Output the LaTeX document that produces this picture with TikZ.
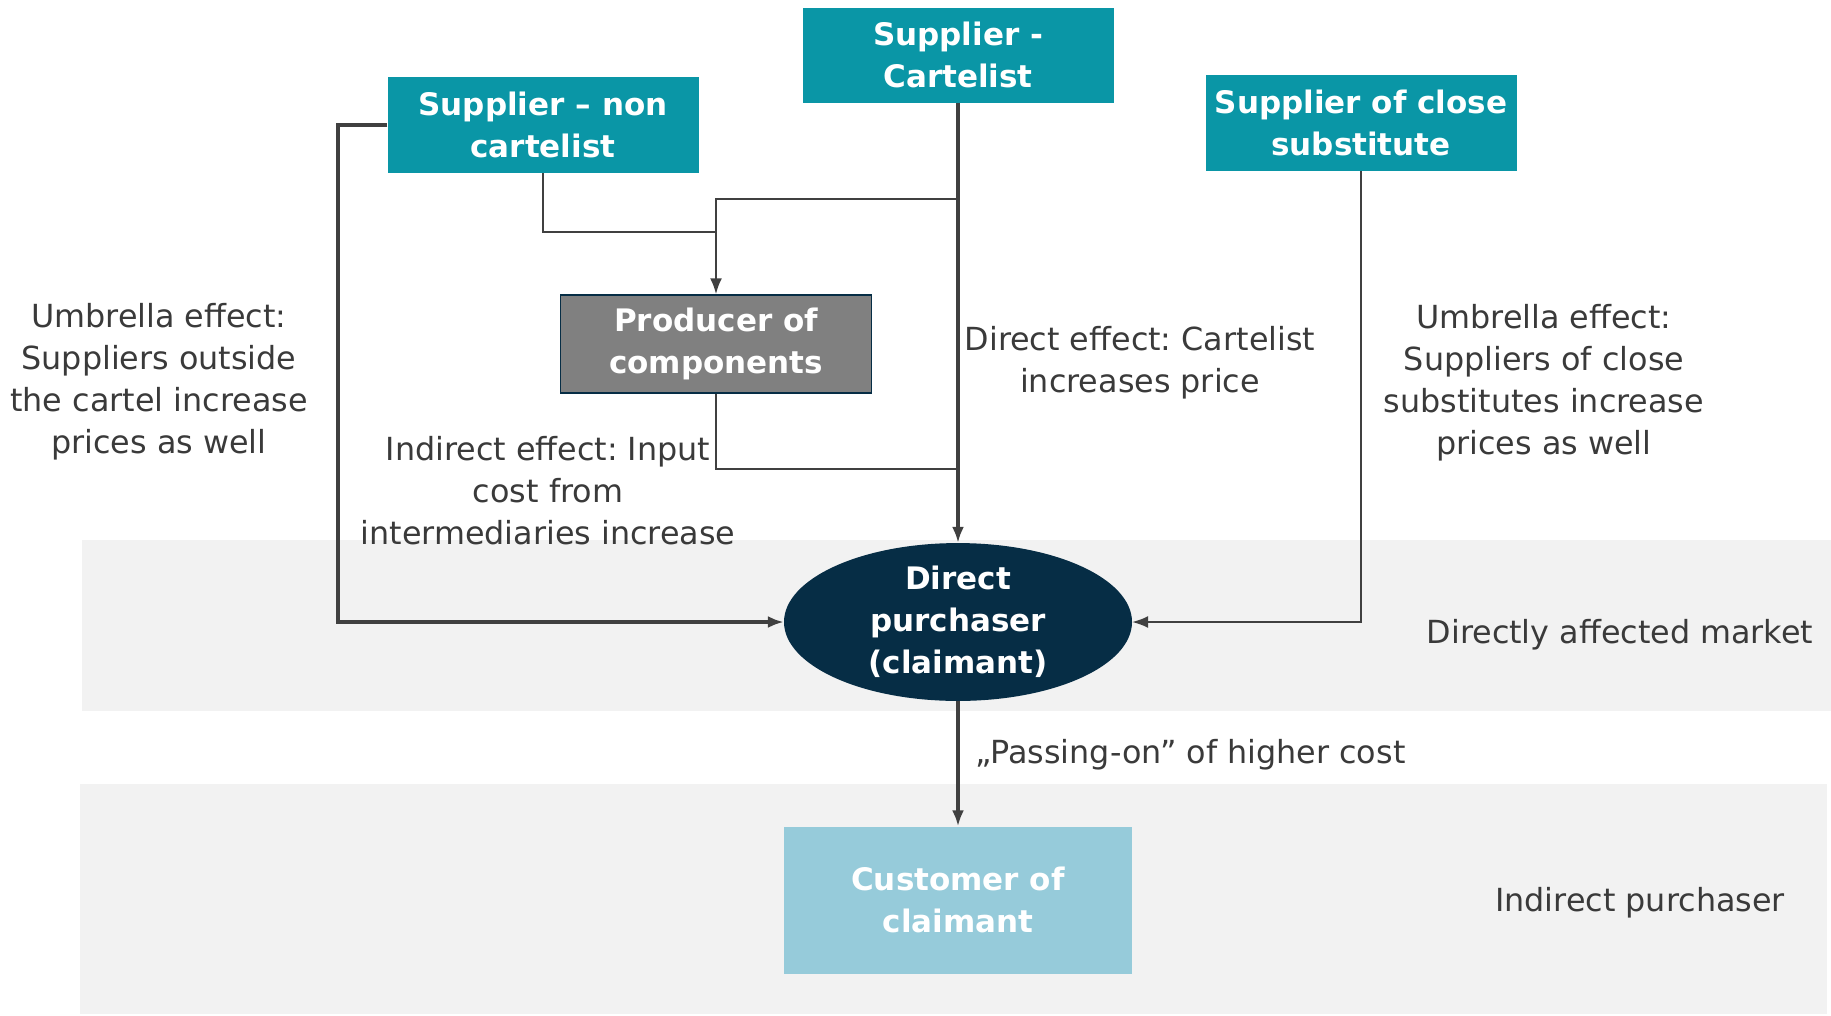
\documentclass[tikz,border=0pt]{standalone}
\usepackage{fontspec}
\setmainfont{DejaVu Sans}
\usetikzlibrary{arrows.meta,shapes.geometric}
\definecolor{teal1}{HTML}{0A96A6}
\definecolor{navy1}{HTML}{062D45}
\definecolor{gray1}{HTML}{808080}
\definecolor{band}{HTML}{F2F2F2}
\definecolor{lightb}{HTML}{96CBDA}
\definecolor{linec}{HTML}{404040}
\definecolor{txt}{HTML}{3A3A3A}
\frenchspacing
\tikzset{
  boxfont/.style={font=\fontsize{31}{42}\selectfont\bfseries\frenchspacing, text=white, align=center},
  tealbox/.style={boxfont, fill=teal1, inner sep=0pt, minimum width=311pt, minimum height=96pt},
  prodbox/.style={boxfont, fill=gray1, draw=navy1, line width=1.5pt, inner sep=0pt, minimum width=311pt, minimum height=98pt},
  custbox/.style={boxfont, fill=lightb, inner sep=0pt, minimum width=348pt, minimum height=147pt},
  dpell/.style={boxfont, ellipse, fill=navy1, inner sep=0pt, minimum width=348pt, minimum height=152pt},
  lbl/.style={font=\fontsize{31.8}{42}\selectfont\frenchspacing, text=txt, align=center, inner sep=0pt, yshift=-3.5pt},
  thinln/.style={draw=linec, line width=1.6pt},
  thickln/.style={draw=linec, line width=3.2pt},
  arr/.style={-{Latex[length=16pt,width=12pt]}},
}
\begin{document}
\begin{tikzpicture}[x=1pt,y=-1pt]
\useasboundingbox (0,0) rectangle (1831,1015);
% bands
\fill[band] (82,540) rectangle (1831,711);
\fill[band] (80,784) rectangle (1827,1014);
% nodes
\node[tealbox, minimum height=95pt] (cart) at (958,55) {Supplier -\\Cartelist};
\node[tealbox] (nc) at (543,125) {Supplier – non\\cartelist};
\node[tealbox] (sub) at (1361,123) {Supplier of close\\substitute};
\node[prodbox] (prod) at (716,344) {Producer of\\components};
\node[dpell] (dp) at (958,622) {Direct\\purchaser\\(claimant)};
\node[custbox] (cust) at (958,900) {Customer of\\claimant};
% labels
\node[lbl] (lu) at (159,378) {Umbrella effect:\\Suppliers outside\\the cartel increase\\prices as well};
\node[lbl] (ru) at (1544,379) {Umbrella effect:\\Suppliers of close\\substitutes increase\\prices as well};
\node[lbl] (de) at (1140,359) {Direct effect: Cartelist\\increases price};
\node[lbl] (ie) at (548,487) {Indirect effect: Input\\cost from\\intermediaries increase};
\node[lbl] (dam) at (1620,631) {Directly affected market};
\node[lbl] (ip) at (1640,899) {Indirect purchaser};
\node[lbl, anchor=west] (po) at (975,751) {„Passing-on” of higher cost};
% junction coordinates
\coordinate (j1) at (958,199);
\coordinate (j2) at (716,232);
\coordinate (j3) at (958,469);
\coordinate (lft) at (338,622);
% connectors
\draw[thickln, arr] (cart.south) -- (dp.north);
\draw[thinln, arr, line width=2pt] (j1) -| (prod.north);
\draw[thinln] (nc.south) |- (j2);
\draw[thinln] (prod.south) |- (j3);
\draw[thickln, arr] (nc.west) -| (lft) -- (dp.west);
\draw[thinln, arr] (sub.south) |- (dp.east);
\draw[thickln, arr] (dp.south) -- (cust.north);
\end{tikzpicture}
\end{document}
